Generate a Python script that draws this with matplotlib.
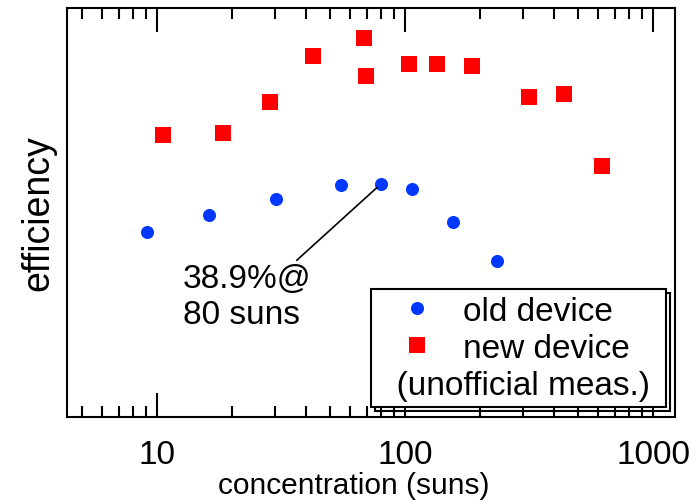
import matplotlib
matplotlib.use("Agg")
import matplotlib.pyplot as plt
from matplotlib.ticker import LogLocator, NullFormatter

plt.rcParams.update({
    "font.family": ["Liberation Sans", "DejaVu Sans"],
    "axes.linewidth": 1.5,
})

BLUE = "#0038ff"
RED = "#ff0000"

# old device (concentration in suns, efficiency in %)
old_conc = [9.1, 16.2, 30.2, 55.2, 80.0, 106.7, 156, 235]
old_eff = [37.0, 37.7, 38.3, 38.85, 38.9, 38.7, 37.4, 35.9]

# new device (unofficial measurements)
new_conc = [10.6, 18.5, 28.6, 42.6, 68.4, 69.7, 103.7, 134.6, 186, 316, 437, 622]
new_eff = [40.8, 40.9, 42.1, 43.9, 44.6, 43.1, 43.6, 43.6, 43.5, 42.3, 42.4, 39.6]

xticks = [10, 100, 1000]
xtick_labels = ["10", "100", "1000"]

fig = plt.figure(figsize=(6.99, 5.02), dpi=100)
ax = fig.add_axes([0.0959, 0.1673, 0.8698, 0.8148])

ax.plot(old_conc, old_eff, "o", color=BLUE, markersize=9.4, markeredgewidth=0,
        label="old device", zorder=3)
ax.plot(new_conc, new_eff, "s", color=RED, markersize=11.5, markeredgewidth=0,
        label="new device", zorder=3)

ax.set_xscale("log")
ax.set_xlim(4.336, 1226.6)
ax.set_ylim(29.78, 45.78)

ax.set_xticks(xticks, labels=xtick_labels)
ax.xaxis.set_minor_locator(LogLocator(base=10, subs=range(2, 10)))
ax.xaxis.set_minor_formatter(NullFormatter())
ax.tick_params(axis="x", which="both", direction="in", top=True, bottom=True,
               width=1.5, labelsize=24, pad=16)
ax.tick_params(axis="x", which="major", length=17)
ax.tick_params(axis="x", which="minor", length=8)
ax.tick_params(axis="y", which="both", left=False, right=False, labelleft=False)

ax.set_xlabel("concentration (suns)", fontsize=21.5, labelpad=0)
ax.xaxis.set_label_coords(0.471, -0.133)
ax.set_ylabel("efficiency", fontsize=27, labelpad=8)

ax.annotate("38.9%@\n80 suns", xy=(80, 38.9), xytext=(12.73, 35.8),
            textcoords="data", ha="left", va="top", fontsize=24, linespacing=1.2,
            arrowprops=dict(arrowstyle="-", color="black", lw=1.2,
                            shrinkA=0, shrinkB=4, relpos=(0.86, 1.0)))

# padding spaces around the title give the wider side margins of the box
leg = ax.legend(loc="lower right", bbox_to_anchor=(0.985, 0.024), borderaxespad=0,
                fontsize=24, title="  (unofficial meas.) ", title_fontsize=24,
                alignment="left", numpoints=1, handlelength=2.34,
                handletextpad=0.2, borderpad=0.2, labelspacing=0.18,
                fancybox=False, framealpha=1, edgecolor="black",
                shadow={"ox": 3, "oy": -3, "facecolor": "none",
                        "edgecolor": "black", "linewidth": 1.5, "alpha": 1})
leg.get_frame().set_linewidth(1.5)
# put the title line below the entries
leg._legend_box.get_children().reverse()

fig.savefig("out.png", dpi=100)
